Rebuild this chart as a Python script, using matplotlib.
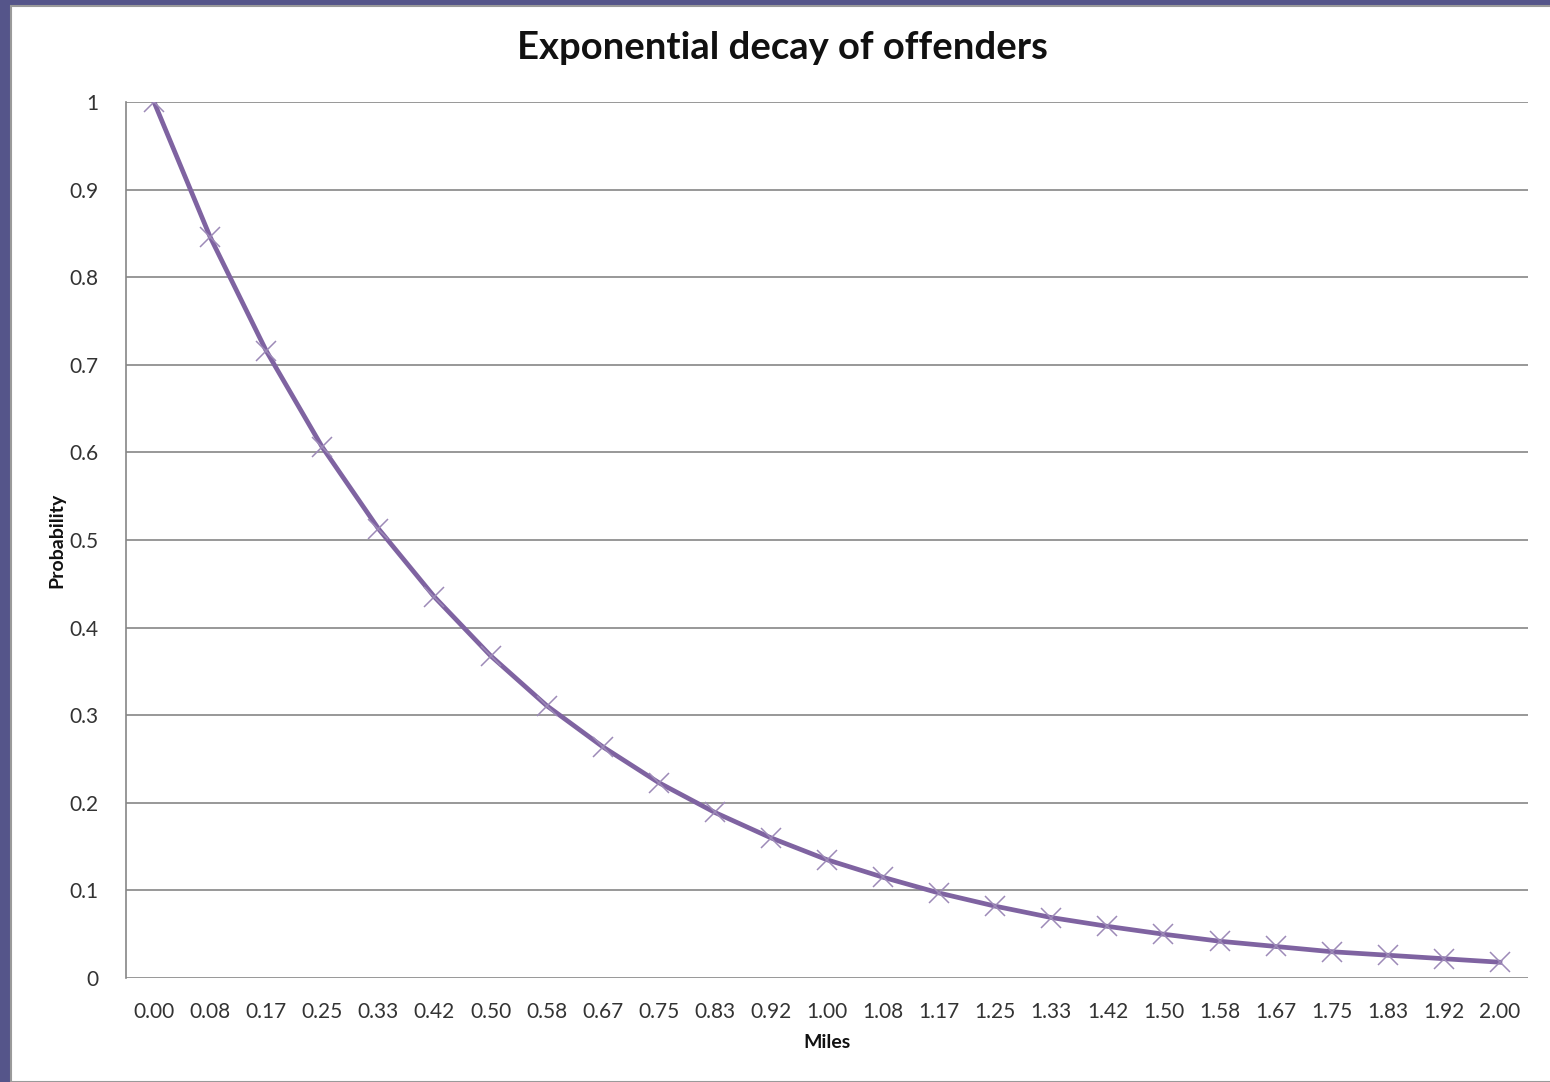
import matplotlib
matplotlib.use("Agg")
from matplotlib import pyplot as plt
from matplotlib.patches import Rectangle

plt.rcParams['font.family'] = ['Lato', 'DejaVu Sans']

miles = ['0.00', '0.08', '0.17', '0.25', '0.33', '0.42', '0.50', '0.58', '0.67',
         '0.75', '0.83', '0.92', '1.00', '1.08', '1.17', '1.25', '1.33', '1.42',
         '1.50', '1.58', '1.67', '1.75', '1.83', '1.92', '2.00']
probability = [1.000, 0.846, 0.716, 0.606, 0.513, 0.435, 0.368, 0.311, 0.264,
               0.223, 0.189, 0.160, 0.135, 0.115, 0.097, 0.082, 0.069, 0.059,
               0.050, 0.042, 0.036, 0.030, 0.026, 0.022, 0.018]
y_ticks = [0, 0.1, 0.2, 0.3, 0.4, 0.5, 0.6, 0.7, 0.8, 0.9, 1]
y_tick_labels = ['0', '0.1', '0.2', '0.3', '0.4', '0.5', '0.6', '0.7', '0.8', '0.9', '1']

fig = plt.figure(figsize=(15.5, 10.82), dpi=100, facecolor='#55558a')
# white chart card over the slide background
fig.patches.append(Rectangle((11 / 1550, 0), 1, 1 - 6 / 1082, transform=fig.transFigure,
                             facecolor='white', edgecolor='#9a9a9a', linewidth=1.5, zorder=-10))

ax = fig.add_axes([126 / 1550, 1 - 978 / 1082, (1528 - 126) / 1550, (978 - 102) / 1082])
ax.set_zorder(2)
ax.set_facecolor('none')

x = list(range(len(miles)))
ax.plot(x, probability, color='#7f63a1', linewidth=3.4, zorder=3)
ax.plot(x, probability, linestyle='none', marker='x', markersize=15,
        markeredgewidth=1.1, color='#9d8ab8', zorder=4)

ax.set_xlim(-0.5, len(miles) - 0.5)
ax.set_ylim(0, 1)
ax.set_yticks(y_ticks)
ax.set_yticklabels(y_tick_labels)
ax.set_xticks(x)
ax.set_xticklabels(miles)
ax.tick_params(axis='both', length=0, labelsize=15, colors='#333333')
ax.tick_params(axis='y', pad=20)
ax.tick_params(axis='x', pad=17)
ax.grid(axis='y', color='#868686', linewidth=1.2)
ax.set_axisbelow(True)

for side in ['top', 'right', 'bottom']:
    ax.spines[side].set_visible(False)
ax.spines['left'].set_color('#868686')
ax.spines['left'].set_linewidth(1.2)

fig.text(782 / 1550, 1 - 48 / 1082, 'Exponential decay of offenders', ha='center', va='center',
         fontsize=27.5, fontweight='bold', color='#111111')
fig.text(827 / 1550, 1 - 1043 / 1082, 'Miles', ha='center', va='center',
         fontsize=14, fontweight='bold', color='#111111')
fig.text(57 / 1550, 1 - 540 / 1082, 'Probability', ha='center', va='center', rotation=90,
         fontsize=14, fontweight='bold', color='#111111')

fig.savefig('out.png', dpi=100, facecolor=fig.get_facecolor())
